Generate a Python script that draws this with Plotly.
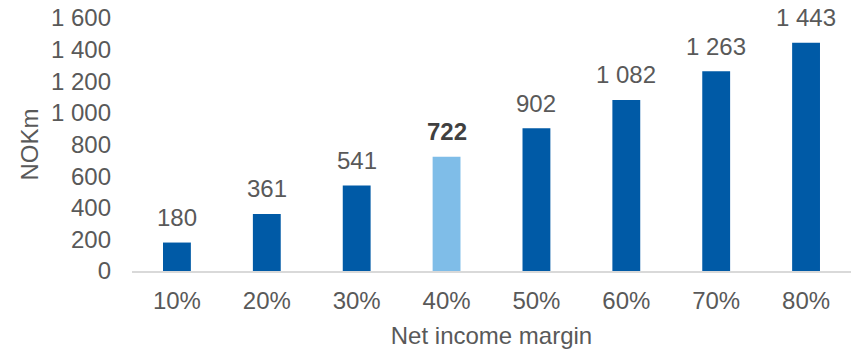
import plotly.graph_objects as go

# Net income at different margins (NOKm)
margins = ["10%", "20%", "30%", "40%", "50%", "60%", "70%", "80%"]
values = [180, 361, 541, 722, 902, 1082, 1263, 1443]
highlight = "40%"

y_ticks = [0, 200, 400, 600, 800, 1000, 1200, 1400, 1600]

DARK = "#005AA6"
LIGHT = "#7FBDE8"
TEXT = "#595959"
FONT = "Liberation Sans, Arial, sans-serif"
SIZE = 24

colors = [LIGHT if m == highlight else DARK for m in margins]


def fmt(v):
    return f"{v:,}".replace(",", " ")


fig = go.Figure(
    go.Bar(
        x=margins,
        y=values,
        marker=dict(color=colors, line=dict(width=0)),
        hoverinfo="skip",
    )
)

for m, v in zip(margins, values):
    bold = m == highlight
    fig.add_annotation(
        x=m,
        y=v,
        text=f"<b>{fmt(v)}</b>" if bold else fmt(v),
        showarrow=False,
        yanchor="middle",
        yshift=25,
        font=dict(size=SIZE, color="#404040" if bold else TEXT, family=FONT),
    )

fig.update_layout(
    width=853,
    height=349,
    margin=dict(l=132, r=2, t=18, b=78),
    plot_bgcolor="white",
    paper_bgcolor="white",
    separators=". ",
    bargap=0.69,
    showlegend=False,
    font=dict(family=FONT, size=SIZE, color=TEXT),
    xaxis=dict(
        showgrid=False,
        showline=True,
        linecolor="#D9D9D9",
        linewidth=2,
        ticks="",
        tickfont=dict(size=SIZE, color=TEXT),
        ticklabelstandoff=7,
        title=dict(text="Net income margin", font=dict(size=SIZE, color=TEXT), standoff=16),
    ),
    yaxis=dict(
        range=[0, 1600],
        tickvals=y_ticks,
        tickformat=",d",
        showgrid=False,
        zeroline=False,
        showline=False,
        ticks="",
        tickfont=dict(size=SIZE, color=TEXT),
        ticklabelstandoff=20,
        title=dict(text="NOKm", font=dict(size=SIZE, color=TEXT), standoff=5),
    ),
)

fig.write_html("out.html")
